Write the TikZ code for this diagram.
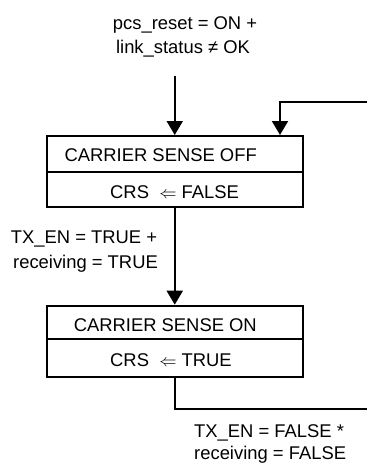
\documentclass[tikz,border=0pt]{standalone}
\usepackage{fontspec}
\setmainfont{Liberation Sans}
\usetikzlibrary{arrows.meta}
\begin{document}
\begin{tikzpicture}[x=1pt,y=-1pt,
  cell/.style={draw,line width=2pt,rectangle,inner sep=0pt,minimum width=256.5pt},
  lbl/.style={inner sep=0pt,font=\fontsize{18.4}{22}\selectfont},
  conn/.style={line width=2pt},
  arr/.style={conn,-{Triangle[width=16pt,length=14pt]}}]
\useasboundingbox (0,0) rectangle (367,467);
% box 1
\node[cell,minimum height=35.5pt] (b1t) at (174.75,153.75) {};
\node[cell,minimum height=35.5pt] (b1b) at (174.75,189.25) {};
% box 2
\node[cell,minimum height=33.3pt] (b2t) at (174.75,322.35) {};
\node[cell,minimum height=38pt] (b2b) at (174.75,358) {};
% texts in boxes
\node[lbl,anchor=base east] (s1) at (257,161) {CARRIER SENSE OFF};
\node[lbl,anchor=base west] (a1) at (110,198) {CRS\ \ $\Leftarrow$ FALSE};
\node[lbl,anchor=base east] (s2) at (257,331.5) {CARRIER SENSE ON};
\node[lbl,anchor=base west] (a2) at (110,366.5) {CRS\ \ $\Leftarrow$ TRUE};
% transition labels
\node[lbl,anchor=base] (l1a) at (185,29) {pcs\_reset = ON +};
\node[lbl,anchor=base] (l1b) at (183,53.5) {link\_status ≠ OK};
\node[lbl,anchor=base] (l2a) at (84,243) {TX\_EN = TRUE +};
\node[lbl,anchor=base] (l2b) at (85.5,268) {receiving = TRUE};
\node[lbl,anchor=base west] (l3a) at (194,437.5) {TX\_EN = FALSE *};
\node[lbl,anchor=base west] (l3b) at (194,459.5) {receiving = FALSE};
% connectors
\coordinate (in) at (174.75,76);
\coordinate (ret) at (367,102);
\coordinate (retc) at (280,102);
\coordinate (outc) at (174.75,409);
\coordinate (out) at (367,409);
\draw[arr] (in) -- (b1t.north);
\draw[arr] (ret) -- (retc) -- (b1t.north -| retc);
\draw[arr] (b1b.south) -- (b2t.north);
\draw[conn] (b2b.south) -- (outc) -- (out);
\end{tikzpicture}
\end{document}
